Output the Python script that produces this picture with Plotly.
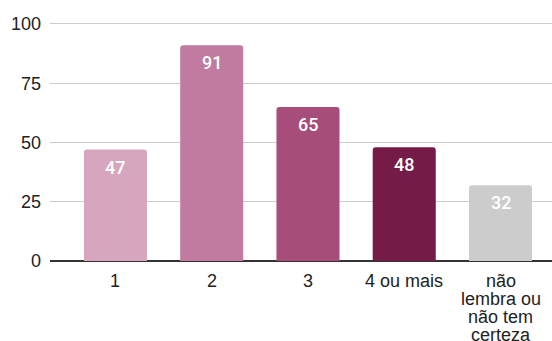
import plotly.graph_objects as go

# Number of occurrences by answer category
categories = ["1", "2", "3", "4 ou mais", "não lembra ou não tem certeza"]
label_lines = [["1"], ["2"], ["3"], ["4 ou mais"], ["não", "lembra ou", "não tem", "certeza"]]
values = [47, 91, 65, 48, 32]
colors = ["#d5a6bd", "#c27ba0", "#a64d79", "#741b47", "#cccccc"]
y_ticks = [0, 25, 50, 75, 100]

FONT = "Liberation Sans, Arial, Helvetica, sans-serif"
LABEL_FONT = "Roboto, Liberation Sans, Arial, sans-serif"
positions = list(range(len(categories)))

fig = go.Figure(
    go.Bar(
        x=positions,
        y=values,
        width=[0.655] * len(values),
        marker=dict(color=colors, cornerradius=3, line=dict(width=0)),
        hoverinfo="skip",
    )
)

annotations = []

# Value labels just inside the top of each bar
for pos, v in zip(positions, values):
    annotations.append(
        dict(
            x=pos, y=v, xref="x", yref="y",
            text=str(v), showarrow=False,
            xanchor="center", yanchor="top",
            yshift=-5,
            font=dict(family=LABEL_FONT, size=18, color="white", weight=500),
        )
    )

# Category labels under the axis, one annotation per text line
for pos, lines in zip(positions, label_lines):
    for i, line in enumerate(lines):
        annotations.append(
            dict(
                x=pos, y=0, xref="x", yref="y",
                text=line, showarrow=False,
                xanchor="center", yanchor="middle",
                yshift=-20 - 18 * i,
                borderpad=0,
                font=dict(family=FONT, size=18, color="#222222"),
            )
        )

fig.update_layout(
    width=552,
    height=341,
    margin=dict(l=50, r=0, t=22, b=80),
    paper_bgcolor="white",
    plot_bgcolor="white",
    showlegend=False,
    font=dict(family=FONT, size=18, color="#222222"),
    annotations=annotations,
    xaxis=dict(
        range=[-0.68, 4.535],
        showticklabels=False,
        showgrid=False,
        zeroline=False,
        showline=False,
        fixedrange=True,
    ),
    yaxis=dict(
        range=[0, 100.84],
        tickvals=y_ticks,
        ticktext=[str(t) for t in y_ticks],
        showgrid=True,
        gridcolor="#cccccc",
        gridwidth=1,
        zeroline=True,
        zerolinecolor="#333333",
        zerolinewidth=1.5,
        showline=False,
        ticks="",
        ticklabelstandoff=8,
        tickfont=dict(family=FONT, size=18, color="#222222"),
        fixedrange=True,
    ),
)

fig.write_html("out.html")
